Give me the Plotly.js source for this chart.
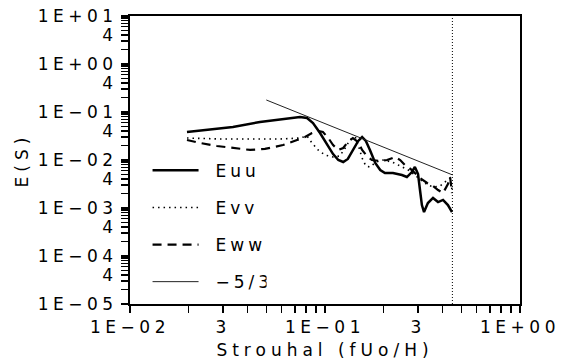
<!DOCTYPE html>
<html>
<head>
<meta charset="utf-8">
<script src="https://cdn.plot.ly/plotly-3.0.1.min.js"></script>
<style>
  html, body { margin: 0; padding: 0; background: #fff; }
  #chart { width: 564px; height: 362px; }
  .xtick text, .ytick text { letter-spacing: 4.5px; }
  .g-xtitle text { letter-spacing: 5px; }
  .g-ytitle text { letter-spacing: 5px; }
  .legendtext { letter-spacing: 4px; transform: translateX(12px); }
</style>
</head>
<body>
<div id="chart"></div>
<script>
// Euu spectrum
const euuX = [0.0196, 0.0337, 0.0464, 0.0624, 0.0744, 0.0809, 0.0868, 0.0943, 0.102, 0.110, 0.117, 0.124, 0.131, 0.139, 0.148, 0.155, 0.162, 0.170, 0.181, 0.192, 0.203, 0.223, 0.248, 0.263, 0.279, 0.289, 0.300, 0.307, 0.314, 0.322, 0.337, 0.358, 0.380, 0.403, 0.427, 0.448];
const euuY = [0.0383, 0.0487, 0.0619, 0.0715, 0.0787, 0.0750, 0.0590, 0.0365, 0.0215, 0.0133, 0.0100, 0.00909, 0.0105, 0.0162, 0.0249, 0.0301, 0.0249, 0.0162, 0.00866, 0.00619, 0.00536, 0.00536, 0.00487, 0.00442, 0.00562, 0.00715, 0.00511, 0.00237, 0.00115, 0.000825, 0.00127, 0.00162, 0.00133, 0.00147, 0.00115, 0.000825];

// Evv spectrum
const evvX = [0.0196, 0.0289, 0.0413, 0.0588, 0.0744, 0.0809, 0.0858, 0.0921, 0.100, 0.110, 0.119, 0.127, 0.134, 0.143, 0.148, 0.155, 0.162, 0.170, 0.183, 0.198, 0.221, 0.243, 0.267, 0.289, 0.314, 0.337, 0.362, 0.389, 0.413, 0.438, 0.448];
const evvY = [0.0287, 0.0274, 0.0274, 0.0274, 0.0287, 0.0316, 0.0226, 0.0162, 0.0127, 0.01155, 0.0121, 0.0178, 0.0261, 0.0301, 0.0205, 0.0110, 0.0075, 0.00715, 0.00909, 0.0100, 0.00909, 0.0075, 0.00619, 0.00487, 0.00365, 0.00301, 0.00274, 0.00287, 0.00348, 0.00422, 0.00237];

// Eww spectrum
const ewwX = [0.0196, 0.0229, 0.0279, 0.0337, 0.0413, 0.0492, 0.0609, 0.0719, 0.0790, 0.0858, 0.0921, 0.0976, 0.104, 0.110, 0.117, 0.124, 0.131, 0.139, 0.148, 0.155, 0.164, 0.174, 0.192, 0.208, 0.229, 0.243, 0.257, 0.279, 0.307, 0.334, 0.358, 0.380, 0.403, 0.427, 0.438, 0.448];
const ewwY = [0.0261, 0.0226, 0.0196, 0.0178, 0.0162, 0.0170, 0.0205, 0.0261, 0.0301, 0.0365, 0.0402, 0.0383, 0.0287, 0.0205, 0.0162, 0.0178, 0.0237, 0.0287, 0.0237, 0.0162, 0.0121, 0.0100, 0.00953, 0.0100, 0.01155, 0.0100, 0.00787, 0.00619, 0.00422, 0.00332, 0.00287, 0.00237, 0.00205, 0.00316, 0.00442, 0.00205];

// -5/3 reference slope
const slopeX = [0.05, 0.45];
const slopeY = [0.178, 0.0049];

// cutoff line
const cutoffX = [0.45, 0.45];
const cutoffY = [1e-5, 10];

// ticks
const xTickVals = [0.01, 0.02, 0.03, 0.04, 0.05, 0.06, 0.07, 0.08, 0.09, 0.1, 0.2, 0.3, 0.4, 0.5, 0.6, 0.7, 0.8, 0.9, 1];
const xTickText = ['1E\u221202', '', '3', '', '', '', '', '', '', '1E\u221201', '', '3', '', '', '', '', '', '', '1E+00'];
const yDecades = [-5, -4, -3, -2, -1, 0, 1];
const yMajorText = ['1E\u221205', '1E\u221204', '1E\u221203', '1E\u221202', '1E\u221201', '1E+00', '1E+01'];
const yTickVals = [];
const yTickText = [];
yDecades.forEach((d, i) => {
  yTickVals.push(Math.pow(10, d)); yTickText.push(yMajorText[i]);
  if (d < 1) {
    for (let m = 2; m <= 9; m++) {
      yTickVals.push(m * Math.pow(10, d));
      yTickText.push(m === 4 ? '4' : '');
    }
  }
});

const font = { family: 'DejaVu Sans, Liberation Sans, sans-serif', size: 17, color: '#000' };

const traces = [
  { x: euuX, y: euuY, name: 'Euu', mode: 'lines', legendgroup: 'a',
    line: { color: '#000', width: 2.5 } },
  { x: evvX, y: evvY, name: 'Evv', mode: 'lines', legendgroup: 'b',
    line: { color: '#000', width: 1.6, dash: '1.5px,4px' } },
  { x: ewwX, y: ewwY, name: 'Eww', mode: 'lines', legendgroup: 'c',
    line: { color: '#000', width: 2.2, dash: '9px,6px' } },
  { x: slopeX, y: slopeY, name: '\u22125/3', mode: 'lines', legendgroup: 'd',
    line: { color: '#222', width: 1 } },
  { x: cutoffX, y: cutoffY, mode: 'lines', showlegend: false,
    line: { color: '#000', width: 1, dash: '1px,2px' } }
];

const axisCommon = {
  type: 'log', showgrid: false, zeroline: false,
  showline: true, linecolor: '#000', linewidth: 2, mirror: true,
  ticks: 'outside', ticklen: 7, tickwidth: 1.5, tickcolor: '#000',
  tickmode: 'array', tickfont: font
};

const layout = {
  width: 564, height: 362,
  margin: { l: 130, r: 44, t: 16, b: 58 },
  paper_bgcolor: '#fff', plot_bgcolor: '#fff',
  font: font,
  showlegend: true,
  legend: { x: 0.045, y: 0.525, xanchor: 'left', yanchor: 'top',
    bgcolor: 'rgba(0,0,0,0)', font: font, tracegroupgap: 12, itemwidth: 46,
    traceorder: 'grouped' },
  xaxis: Object.assign({}, axisCommon, {
    range: [-2, 0], tickvals: xTickVals, ticktext: xTickText,
    title: { text: 'Strouhal (fUo/H)', font: font, standoff: 8 }
  }),
  yaxis: Object.assign({}, axisCommon, {
    range: [-5, 1], tickvals: yTickVals, ticktext: yTickText,
    title: { text: 'E(S)', font: font, standoff: 5 }
  })
};

Plotly.newPlot('chart', traces, layout, { staticPlot: true, displayModeBar: false });
</script>
</body>
</html>
